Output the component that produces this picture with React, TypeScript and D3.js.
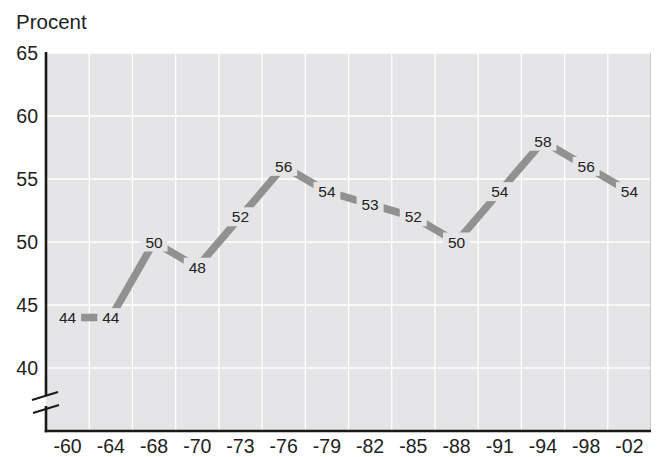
import React from "react";
import * as d3 from "d3";

const categories = ["-60", "-64", "-68", "-70", "-73", "-76", "-79", "-82", "-85", "-88", "-91", "-94", "-98", "-02"];
const values = [44, 44, 50, 48, 52, 56, 54, 53, 52, 50, 54, 58, 56, 54];
const yTicks = [40, 45, 50, 55, 60, 65];
const yLabel = "Procent";

const W = 659;
const H = 457;
const left = 46;
const right = 651;
const top = 53;
const bottom = 431;
const bg = "#e5e5e7";
const font = "'Liberation Sans', Arial, Helvetica, sans-serif";

export default function App() {
  const x = d3.scaleBand<string>().domain(categories).range([left, right]).padding(0);
  const y = d3.scaleLinear().domain([35, 65]).range([bottom, top]);
  const cx = (c: string) => (x(c) as number) + x.bandwidth() / 2;
  const line = d3
    .line<number>()
    .x((_, i) => cx(categories[i]))
    .y((d) => y(d));
  const labelW = 27;
  const labelH = 19;
  return (
    <svg width={W} height={H} style={{ position: "absolute", left: 0, top: 0 }} fontFamily={font}>
      <rect x={0} y={0} width={W} height={H} fill="#fff" />
      <rect x={left} y={top} width={right - left} height={bottom - top} fill={bg} />
      <line x1={right - 0.5} x2={right - 0.5} y1={top} y2={bottom} stroke="#c9c9cb" strokeWidth={1} />
      {yTicks.map((t) => (
        <line key={"h" + t} x1={left} x2={right - 1} y1={y(t)} y2={y(t)} stroke="#fff" strokeWidth={1.3} />
      ))}
      {categories.slice(1).map((c) => (
        <line key={"v" + c} x1={x(c) as number} x2={x(c) as number} y1={top} y2={bottom} stroke="#fff" strokeWidth={1.3} />
      ))}
      <path d={line(values) || ""} fill="none" stroke="#919191" strokeWidth={7.5} strokeLinejoin="miter" />
      {values.map((v, i) => (
        <g key={"l" + i}>
          <rect
            x={cx(categories[i]) - labelW / 2}
            y={y(v) - labelH / 2}
            width={labelW}
            height={labelH}
            fill={bg}
          />
          <text
            x={cx(categories[i])}
            y={y(v)}
            dy="0.36em"
            textAnchor="middle"
            fontSize={15.5}
            fill="#222"
          >
            {v}
          </text>
        </g>
      ))}
      {/* axes */}
      <line x1={left} x2={left} y1={top - 1} y2={396} stroke="#1a1a1a" strokeWidth={2.6} />
      <line x1={left} x2={left} y1={406} y2={bottom + 1.3} stroke="#1a1a1a" strokeWidth={2.6} />
      <line x1={left - 1.3} x2={right} y1={bottom} y2={bottom} stroke="#1a1a1a" strokeWidth={2.6} />
      <line x1={32} x2={58} y1={400} y2={392} stroke="#1a1a1a" strokeWidth={2} />
      <line x1={33} x2={59} y1={413} y2={405} stroke="#1a1a1a" strokeWidth={2} />
      {yTicks.map((t) => (
        <text key={"yt" + t} x={38} y={y(t)} dy="0.36em" textAnchor="end" fontSize={19.5} fill="#222">
          {t}
        </text>
      ))}
      {categories.map((c) => (
        <text key={"xt" + c} x={cx(c)} y={453} textAnchor="middle" fontSize={19.5} fill="#222">
          {c}
        </text>
      ))}
      <text x={16} y={29} fontSize={20.5} fill="#222">
        {yLabel}
      </text>
    </svg>
  );
}
